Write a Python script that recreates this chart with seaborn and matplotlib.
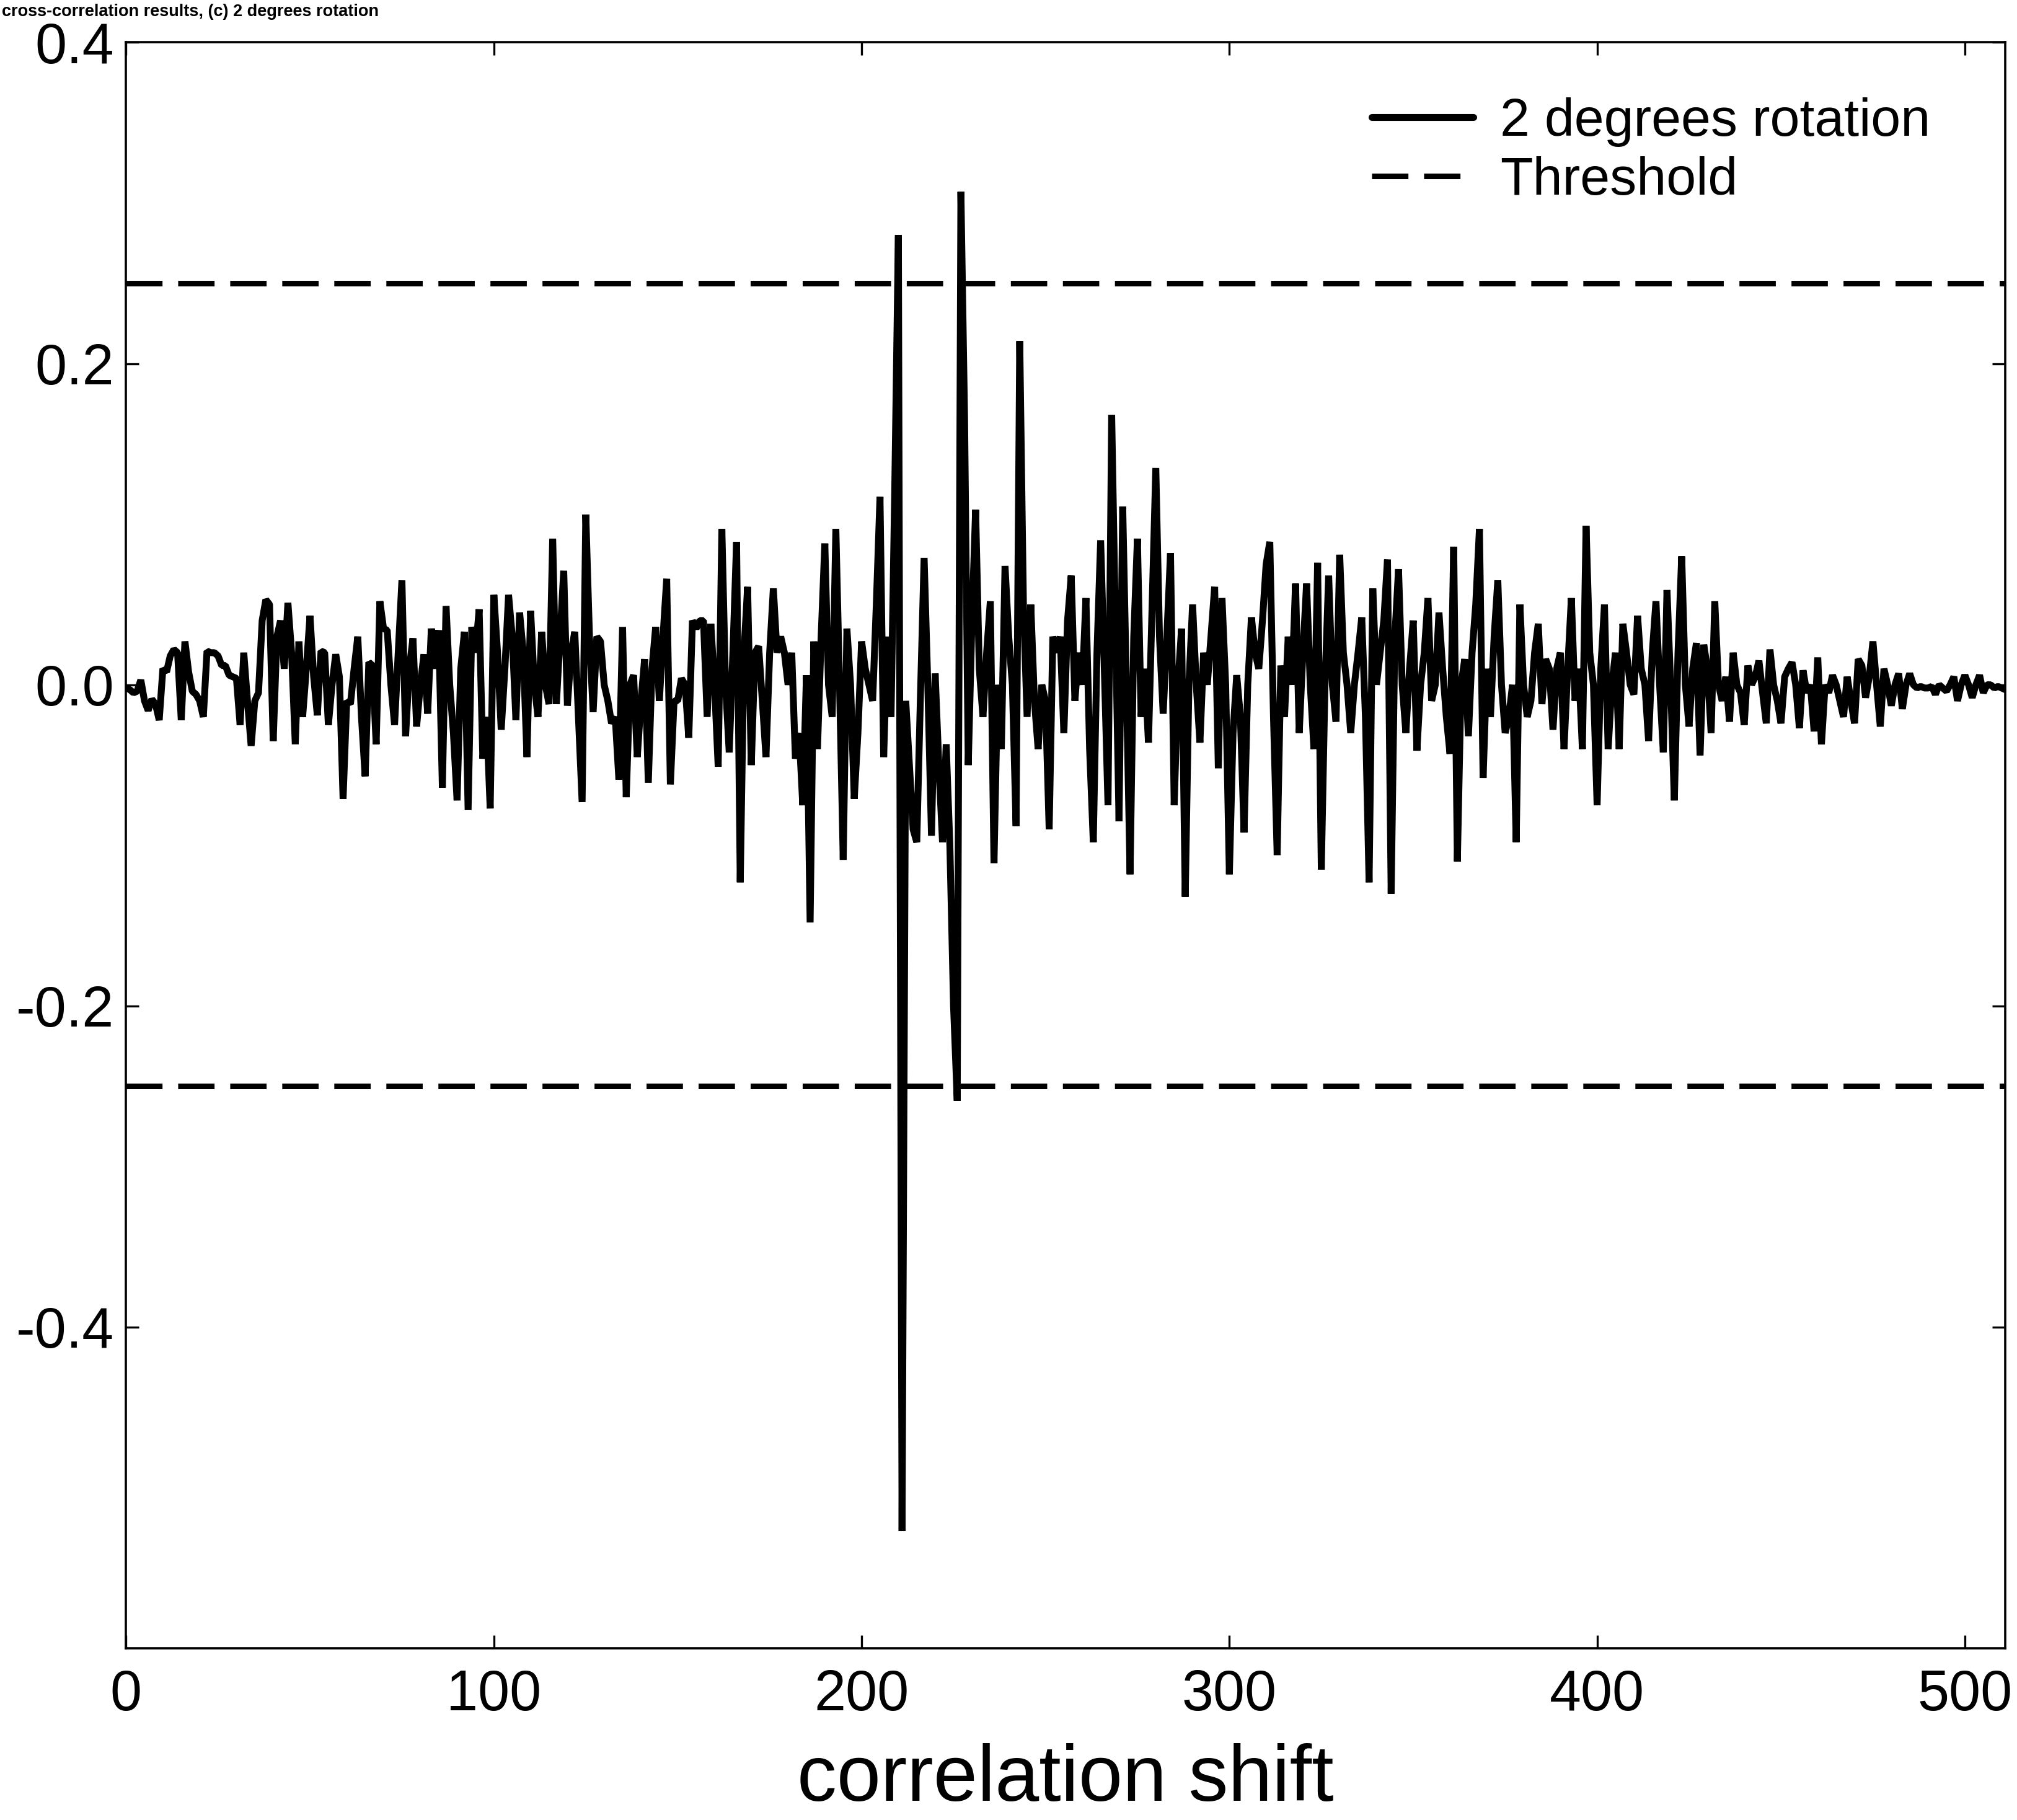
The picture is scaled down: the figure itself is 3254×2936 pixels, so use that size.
import numpy as np
import pandas as pd
import matplotlib
matplotlib.use("Agg")
import matplotlib.pyplot as plt
import seaborn as sns

# ---- data (correlation value per shift) ----
corr = [
    -0.002, -0.003, -0.005, -0.004, 0.003, -0.010, -0.016, -0.009, -0.012, -0.022,
    0.010, 0.008, 0.018, 0.022, 0.020, -0.022, 0.027, 0.008, -0.004, -0.006,
    -0.010, -0.020, 0.021, 0.020, 0.020, 0.018, 0.012, 0.012, 0.006, 0.005,
    0.004, -0.025, 0.020, -0.010, -0.038, -0.010, -0.005, 0.040, 0.053, 0.050,
    -0.035, 0.030, 0.040, 0.010, 0.051, 0.020, -0.037, 0.027, -0.020, 0.010,
    0.043, 0.005, -0.019, 0.021, 0.020, -0.025, 0.000, 0.019, 0.005, -0.071,
    -0.010, -0.012, 0.010, 0.030, -0.020, -0.057, 0.014, 0.012, -0.037, 0.052,
    0.035, 0.034, 0.000, -0.025, 0.020, 0.065, -0.032, 0.010, 0.029, -0.026,
    0.000, 0.019, -0.018, 0.035, 0.010, 0.034, -0.064, 0.049, 0.000, -0.030,
    -0.072, 0.010, 0.033, -0.078, 0.036, 0.020, 0.047, -0.046, -0.020, -0.077,
    0.056, 0.020, -0.028, 0.010, 0.056, 0.030, -0.022, 0.045, 0.020, -0.045,
    0.046, 0.000, -0.020, 0.033, 0.000, -0.012, 0.091, -0.012, 0.030, 0.071,
    -0.013, 0.020, 0.033, -0.020, -0.073, 0.106, 0.030, -0.017, 0.030, 0.027,
    0.000, -0.010, -0.024, -0.020, -0.059, 0.036, -0.070, 0.000, 0.006, -0.045,
    -0.010, 0.016, -0.061, 0.010, 0.036, -0.010, 0.030, 0.066, -0.062, -0.010,
    -0.010, 0.004, 0.000, -0.033, 0.040, 0.035, 0.040, 0.040, -0.020, 0.038,
    0.000, -0.051, 0.097, 0.000, -0.042, 0.020, 0.089, -0.123, 0.020, 0.061,
    -0.050, 0.020, 0.024, -0.010, -0.045, 0.020, 0.060, 0.020, 0.030, 0.020,
    0.000, 0.020, -0.046, -0.030, -0.075, 0.006, -0.148, 0.027, -0.040, 0.030,
    0.088, 0.000, -0.020, 0.097, 0.000, -0.109, 0.035, 0.000, -0.071, -0.030,
    0.027, 0.010, 0.000, -0.010, 0.050, 0.117, -0.045, 0.030, -0.020, 0.120,
    0.280, -0.527, -0.010, -0.050, -0.090, -0.098, -0.007, 0.079, 0.000, -0.094,
    0.007, -0.050, -0.098, -0.037, -0.100, -0.200, -0.259, 0.307, 0.166, -0.050,
    0.040, 0.109, 0.010, -0.020, 0.020, 0.052, -0.111, 0.000, -0.040, 0.074,
    0.030, 0.000, -0.088, 0.214, 0.050, -0.020, 0.050, -0.010, -0.040, 0.000,
    -0.010, -0.090, 0.030, 0.020, 0.030, -0.030, 0.040, 0.068, -0.010, 0.020,
    0.000, 0.054, -0.040, -0.098, 0.020, 0.090, 0.010, -0.075, 0.168, 0.040,
    -0.085, 0.111, 0.000, -0.118, 0.030, 0.091, -0.020, 0.010, -0.036, 0.050,
    0.135, 0.030, -0.018, 0.030, 0.082, -0.075, 0.000, 0.035, -0.132, 0.000,
    0.050, 0.000, -0.036, 0.020, 0.000, 0.030, 0.061, -0.052, 0.054, 0.000,
    -0.118, -0.030, 0.006, -0.020, -0.092, 0.000, 0.042, 0.020, 0.010, 0.040,
    0.075, 0.089, -0.020, -0.106, 0.012, -0.020, 0.030, 0.000, 0.063, -0.030,
    0.020, 0.063, 0.000, -0.040, 0.076, -0.115, 0.000, 0.068, 0.000, -0.023,
    0.081, 0.020, 0.000, -0.030, 0.000, 0.020, 0.042, -0.020, -0.123, 0.060,
    0.000, 0.020, 0.040, 0.078, -0.130, 0.030, 0.072, 0.000, -0.030, 0.010,
    0.040, -0.041, 0.000, 0.020, 0.054, -0.010, 0.000, 0.045, 0.010, -0.020,
    -0.043, 0.086, -0.110, 0.000, 0.016, -0.032, 0.020, 0.050, 0.097, -0.058,
    0.010, -0.020, 0.030, 0.065, 0.000, -0.030, -0.020, 0.000, -0.098, 0.050,
    0.000, -0.020, -0.010, 0.020, 0.038, -0.012, 0.016, 0.010, -0.028, 0.010,
    0.020, -0.040, 0.010, 0.054, -0.010, 0.010, -0.040, 0.099, 0.020, 0.000,
    -0.075, 0.010, 0.050, -0.040, 0.000, 0.020, -0.040, 0.038, 0.020, 0.000,
    -0.006, 0.043, 0.010, 0.000, -0.035, 0.020, 0.052, 0.000, -0.042, 0.059,
    0.000, -0.072, 0.020, 0.080, 0.000, -0.026, 0.010, 0.026, -0.044, 0.025,
    0.010, -0.030, 0.052, 0.000, -0.010, 0.005, -0.023, 0.020, 0.000, -0.005,
    -0.025, 0.012, 0.000, 0.005, 0.015, -0.005, -0.024, 0.022, 0.000, -0.010,
    -0.024, 0.005, 0.010, 0.014, 0.000, -0.027, 0.009, -0.005, 0.000, -0.029,
    0.017, -0.037, 0.000, -0.005, 0.006, 0.000, -0.010, -0.020, 0.005, -0.010,
    -0.024, 0.016, 0.012, -0.008, 0.005, 0.027, 0.000, -0.026, 0.010, 0.000,
    -0.013, 0.000, 0.007, -0.015, 0.000, 0.007, 0.000, -0.002, -0.001, -0.002,
    -0.002, -0.001, -0.006, 0.000, -0.002, -0.004, 0.000, 0.005, -0.010, 0.000,
    0.006, 0.000, -0.008, 0.000, 0.006, -0.005, 0.000, 0.000, -0.002, -0.001,
    -0.002, -0.003,
]
shift = list(range(len(corr)))
threshold = 0.25
series_label = "2 degrees rotation"
threshold_label = "Threshold"
x_ticks = [0, 100, 200, 300, 400, 500]
y_ticks = [-0.4, -0.2, 0.0, 0.2, 0.4]
title = "cross-correlation results, (c) 2 degrees rotation"
xlabel = "correlation shift"

df = pd.DataFrame({"shift": shift, "corr": corr})

sns.set_style("ticks")
plt.rcParams["font.family"] = ["Liberation Sans", "DejaVu Sans"]
plt.rcParams["axes.unicode_minus"] = False
plt.rcParams["text.color"] = "black"
plt.rcParams["axes.labelcolor"] = "black"

fig = plt.figure(figsize=(32.55, 29.36), dpi=100)
ax = fig.add_axes([0.0625, 0.0943, 0.9939 - 0.0625, 0.9767 - 0.0943])

sns.lineplot(data=df, x="shift", y="corr", color="black", linewidth=8,
             label=series_label, ax=ax, legend=False, solid_joinstyle="bevel")
ax.axhline(threshold, color="black", linewidth=6.5, dashes=(6.5, 2.8),
           label=threshold_label)
ax.axhline(-threshold, color="black", linewidth=6.5, dashes=(6.5, 2.8))

ax.set_xlim(0, 511)
ax.set_ylim(-0.6, 0.4)
ax.set_xticks(x_ticks)
ax.set_yticks(y_ticks)
ax.set_yticklabels([f"{v:.1f}" for v in y_ticks])
ax.set_xlabel(xlabel, fontsize=92, labelpad=24, color="black")
ax.set_ylabel("")

for s in ax.spines.values():
    s.set_visible(True)
    s.set_linewidth(2.6)
    s.set_color("black")

ax.tick_params(axis="both", which="major", direction="in", length=15, width=2.4,
               top=True, right=True, labelsize=66, colors="black")
ax.tick_params(axis="x", pad=24)
ax.tick_params(axis="y", pad=14)

leg = ax.legend(loc="upper right", bbox_to_anchor=(0.9567, 0.9465),
                bbox_transform=fig.transFigure, frameon=False, fontsize=62,
                handlelength=1.9, handletextpad=0.5, labelspacing=0.17,
                borderpad=0, borderaxespad=0)
for t in leg.get_texts():
    t.set_color("black")

fig.text(0.001, 0.998, title, fontsize=19.5, fontweight="bold", ha="left",
         va="top", color="black")

fig.savefig("out.png", dpi=100, facecolor="white")
